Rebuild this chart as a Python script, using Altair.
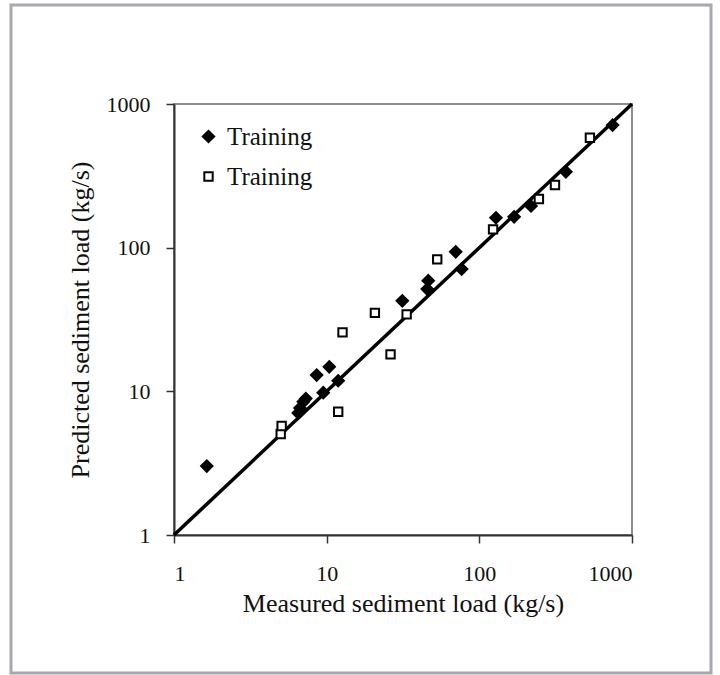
import altair as alt
import pandas as pd

# Filled diamonds (first "Training" series)
diamond_measured = [1.64, 6.52, 6.69, 7.03, 7.3, 8.6, 9.5, 10.4, 11.9, 31.3, 45.6, 46.3, 70, 76.6, 128.5, 169, 218, 369, 746]
diamond_predicted = [3.02, 7.06, 7.65, 8.47, 8.9, 12.98, 9.78, 14.8, 11.85, 42.7, 51.5, 58.9, 93.6, 71, 161.5, 164, 195, 337, 713]

# Open squares (second "Training" series)
square_measured = [5.0, 5.07, 11.9, 12.7, 20.7, 26.2, 33.4, 53, 123, 245.6, 313, 530]
square_predicted = [5.05, 5.74, 7.21, 25.7, 35.2, 18.1, 34.3, 82.9, 134, 218, 273, 582]

series_names = ["Training", "Training "]
line_x = [1, 1000]
line_y = [1, 1000]
axis_ticks = [1, 10, 100, 1000]

FONT = "'Liberation Serif', 'Times New Roman', Times, serif"

rows = []
for m, p in zip(diamond_measured, diamond_predicted):
    rows.append({"measured": m, "predicted": p, "series": series_names[0]})
for m, p in zip(square_measured, square_predicted):
    rows.append({"measured": m, "predicted": p, "series": series_names[1]})
df = pd.DataFrame(rows)
line_df = pd.DataFrame({"measured": line_x, "predicted": line_y})

xscale = alt.Scale(type="log", domain=[1, 1000], nice=False)
yscale = alt.Scale(type="log", domain=[1, 1000], nice=False)

xaxis = alt.Axis(values=axis_ticks, format="d", title="Measured sediment load (kg/s)",
                 grid=False, tickSize=8, labelPadding=20, titlePadding=6,
                 labelFontSize=22, titleFontSize=26, labelFont=FONT, titleFont=FONT,
                 labelColor="#111", titleColor="#111", titleFontWeight="normal",
                 domainColor="#333", tickColor="#333", domainWidth=2, tickWidth=1.5)
yaxis = alt.Axis(values=axis_ticks, format="d", title="Predicted sediment load (kg/s)",
                 grid=False, tickSize=8, labelPadding=16, titlePadding=13,
                 labelFontSize=22, titleFontSize=26, labelFont=FONT, titleFont=FONT,
                 labelColor="#111", titleColor="#111", titleFontWeight="normal",
                 domainColor="#333", tickColor="#333", domainWidth=2, tickWidth=1.5)

frame = alt.Chart(pd.DataFrame({"k": [0]})).mark_rect(
    fill=None, stroke="#a8a8b0", strokeWidth=3
).encode(
    x=alt.value(-163), x2=alt.value(537), y=alt.value(-99), y2=alt.value(569)
)

line = alt.Chart(line_df).mark_line(color="black", strokeWidth=3.5).encode(
    x=alt.X("measured:Q", scale=xscale, axis=xaxis),
    y=alt.Y("predicted:Q", scale=yscale, axis=yaxis),
)

legend = alt.Legend(title=None, orient="none", legendX=22, legendY=20,
                    labelFont=FONT, labelFontSize=25, labelColor="#111",
                    rowPadding=14, symbolStrokeWidth=2,
                    labelOffset=6, symbolStrokeColor="black")

points = alt.Chart(df).mark_point(strokeWidth=2, opacity=1).encode(
    x=alt.X("measured:Q", scale=xscale, axis=xaxis),
    y=alt.Y("predicted:Q", scale=yscale, axis=yaxis),
    shape=alt.Shape("series:N", scale=alt.Scale(domain=series_names, range=["diamond", "square"]), legend=legend),
    fill=alt.Fill("series:N", scale=alt.Scale(domain=series_names, range=["black", "white"]), legend=legend),
    stroke=alt.Stroke("series:N", scale=alt.Scale(domain=series_names, range=["black", "black"]), legend=legend),
    size=alt.Size("series:N", scale=alt.Scale(domain=series_names, range=[130, 70]), legend=legend),
)

chart = alt.layer(frame, line, points).properties(
    width=458, height=431,
    padding={"left": 174, "top": 104, "right": 88, "bottom": 140},
    autosize=alt.AutoSizeParams(type="none"),
    background="white",
).configure_view(stroke="#8c8c8c", strokeWidth=2)

chart.save("out.html", embed_options={"renderer": "svg", "actions": False})
